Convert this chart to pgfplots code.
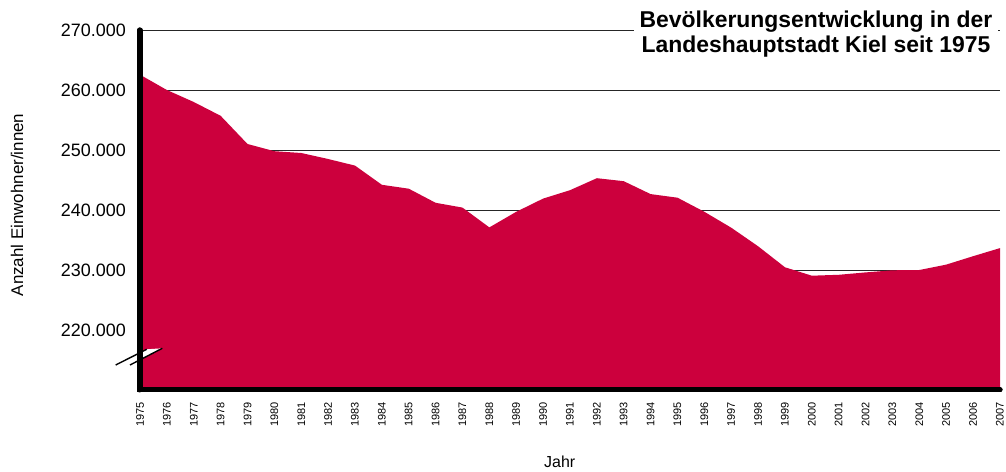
\documentclass[border=0pt]{standalone}
\usepackage{fontspec}
\setmainfont{Liberation Sans}
\usepackage{pgfplots}
\pgfplotsset{compat=1.18}
\definecolor{kielred}{RGB}{204,0,61}

\begin{document}
\begin{tikzpicture}
\begin{axis}[
  scale only axis,
  width=860bp, height=360bp,
  xmin=1975, xmax=2007,
  ymin=210000, ymax=270000,
  axis x line=bottom, axis y line=left,
  axis line style={line width=5bp, -, line cap=round},
  xtick={1975,...,2007},
  ytick={220000,230000,...,270000},
  yticklabels={220.000,230.000,240.000,250.000,260.000,270.000},
  major tick length=0pt,
  ymajorgrids,
  major grid style={black!85, line width=0.8bp},
  /pgf/number format/assume math mode=true,
  /pgf/number format/fixed,
  /pgf/number format/1000 sep={},
  scaled y ticks=false,
  xticklabel style={rotate=90, anchor=east, inner sep=0pt, xshift=-12bp,
    font=\fontsize{11}{13}\selectfont},
  yticklabel style={anchor=east, inner sep=0pt, xshift=-14bp,
    font=\fontsize{18}{20}\selectfont},
  xlabel={Jahr},
  xlabel style={at={(axis description cs:0.488,-0.2)}, anchor=center,
    font=\fontsize{16}{18}\selectfont},
  ylabel={Anzahl Einwohner/innen},
  ylabel style={at={(axis description cs:-0.143,0.514)}, anchor=center,
    font=\fontsize{17}{19}\selectfont},
  clip=false,
]
\addplot[fill=kielred, draw=none] coordinates {
  (1975,262550) (1976,260000) (1977,258000) (1978,255700) (1979,251000)
  (1980,249800) (1981,249500) (1982,248500) (1983,247400) (1984,244200)
  (1985,243550) (1986,241200) (1987,240400) (1988,237100) (1989,239700)
  (1990,241900) (1991,243300) (1992,245300) (1993,244800) (1994,242650)
  (1995,242050) (1996,239700) (1997,237050) (1998,233950) (1999,230450)
  (2000,229050) (2001,229200) (2002,229600) (2003,229950) (2004,230000)
  (2005,230900) (2006,232300) (2007,233650)
} \closedcycle;
\end{axis}
% axis break mark
\fill[white] (-24.3bp,25bp) -- (6.7bp,40.7bp) -- (22.3bp,41.7bp) -- (-10bp,25bp) -- cycle;
\draw[black, line width=1.4bp] (-24.3bp,25bp) -- (6.7bp,40.7bp);
\draw[black, line width=1.4bp] (-10bp,25bp) -- (22.3bp,41.7bp);
% axis lines redrawn above the area and the break mark
\draw[line width=5bp, line cap=round] (0bp,360bp) -- (0bp,0bp) -- (860bp,0bp);
% title
\node[fill=white, inner xsep=6bp, inner ysep=3bp, align=center,
  font=\bfseries\fontsize{23}{25}\selectfont] at (676bp,356bp)
  {Bevölkerungsentwicklung in der\\Landeshauptstadt Kiel seit 1975};
\path[use as bounding box] (-140bp,-80bp) rectangle (866bp,390bp);
\end{tikzpicture}
\end{document}
